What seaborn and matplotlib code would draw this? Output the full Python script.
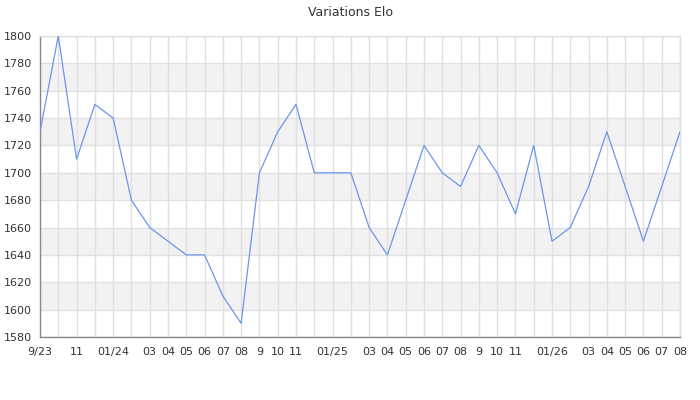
import matplotlib
matplotlib.use("Agg")
import matplotlib.pyplot as plt
from matplotlib.ticker import MultipleLocator
import seaborn as sns
import pandas as pd

months = ["9/23", "10", "11", "12", "01/24", "02", "03", "04", "05", "06", "07", "08",
          "9", "10", "11", "12", "01/25", "02", "03", "04", "05", "06", "07", "08",
          "9", "10", "11", "12", "01/26", "02", "03", "04", "05", "06", "07", "08"]
shown = [True, False, True, False, True, False, True, True, True, True, True, True,
         True, True, True, False, True, False, True, True, True, True, True, True,
         True, True, True, False, True, False, True, True, True, True, True, True]
elo = [1730, 1800, 1710, 1750, 1740, 1680, 1660, 1650, 1640, 1640, 1610, 1590,
       1700, 1730, 1750, 1700, 1700, 1700, 1660, 1640, 1680, 1720, 1700, 1690,
       1720, 1700, 1670, 1720, 1650, 1660, 1690, 1730, 1690, 1650, 1690, 1730]

df = pd.DataFrame({"idx": range(len(months)), "elo": elo})

sns.set_style("white")
plt.rcParams["font.family"] = ["DejaVu Sans"]

fig = plt.figure(figsize=(7, 4), dpi=100)
ax = fig.add_axes([40/700, 1-337/400, 640/700, 301/400])

ymin, ymax = 1580, 1800
for i, lo in enumerate(range(ymin, ymax, 20)):
    if i % 2 == 1:
        ax.axhspan(lo, lo + 20, color="#f2f2f2", zorder=0, lw=0)

sns.lineplot(data=df, x="idx", y="elo", ax=ax, color="#6a96ec", lw=0.9, zorder=3)

ax.set_xlim(0, len(months) - 1)
ax.set_ylim(ymin, ymax)
ax.set_xticks(df["idx"])
ax.set_xticklabels([m if s else "" for m, s in zip(months, shown)])
ax.yaxis.set_major_locator(MultipleLocator(20))
ax.yaxis.set_minor_locator(MultipleLocator(10))
ax.grid(True, which="major", color="#e0e0e0", lw=1, zorder=1)
ax.set_axisbelow(True)

ax.tick_params(axis="x", length=0, pad=7, labelsize=8, labelcolor="#333333")
ax.tick_params(axis="y", which="major", length=4, width=1, color="#888888",
               pad=2, labelsize=8, labelcolor="#333333")
ax.tick_params(axis="y", which="minor", length=3, width=1, color="#888888")
ax.set_xlabel("")
ax.set_ylabel("")

for side in ["top", "right"]:
    ax.spines[side].set_color("#e0e0e0")
    ax.spines[side].set_linewidth(1)
for side in ["left", "bottom"]:
    ax.spines[side].set_color("#888888")
    ax.spines[side].set_linewidth(1)

fig.text(0.5, 1 - 12/400, "Variations Elo", ha="center", va="center",
         fontsize=9, color="#333333")

fig.savefig("out.png", dpi=100)
